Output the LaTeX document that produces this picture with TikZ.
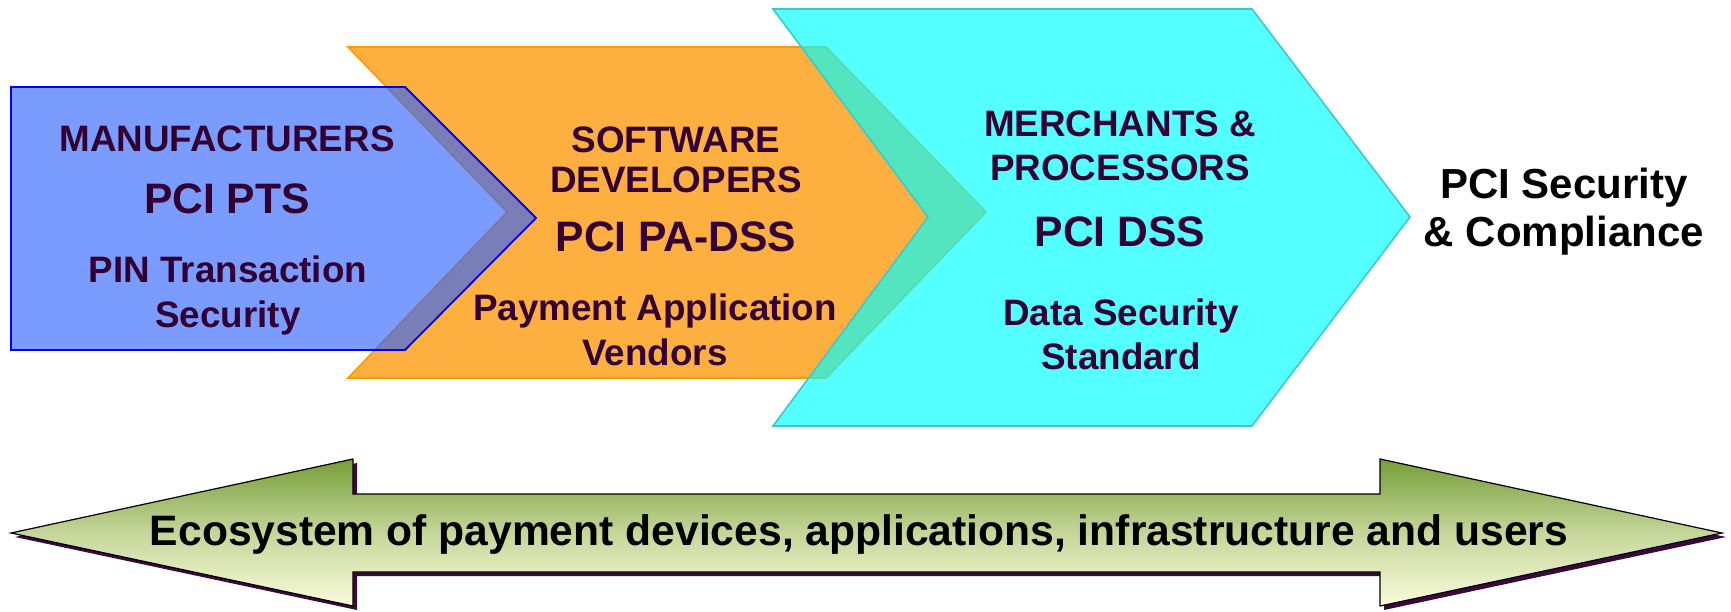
\documentclass[tikz,border=0pt]{standalone}
\usepackage{fontspec}
\setmainfont{Liberation Sans}
\usetikzlibrary{positioning}

\definecolor{labelpurple}{RGB}{51,0,51}
\definecolor{ptsblue}{RGB}{46,98,255}
\definecolor{ptsline}{RGB}{0,0,255}
\definecolor{paorange}{RGB}{253,176,64}
\definecolor{paline}{RGB}{255,153,0}
\definecolor{dsscyan}{RGB}{0,255,255}
\definecolor{dssline}{RGB}{64,200,200}
\definecolor{ecotop}{RGB}{118,158,54}
\definecolor{ecobottom}{RGB}{250,251,220}
\definecolor{ecoshadow}{RGB}{58,8,58}

\begin{document}
\begin{tikzpicture}[x=0.5pt, y=-0.5pt,
    lbl/.style={font=\fontsize{18.4}{22.5}\selectfont\bfseries, text=labelpurple, align=center, inner sep=0pt},
    std/.style={font=\fontsize{21.3}{24}\selectfont\bfseries, text=labelpurple, inner sep=0pt}]
    \useasboundingbox (0,0) rectangle (1731,611);

    % Chevrons
    \filldraw[fill=paorange, draw=paline, line width=0.8pt]
        (348,47) -- (826,47) -- (986,212) -- (826,378) -- (348,378) -- (507,212) -- cycle;
    \filldraw[fill=dsscyan, fill opacity=0.67, draw=dssline, line width=0.8pt]
        (773,9) -- (1252,9) -- (1410,217) -- (1252,426) -- (773,426) -- (928,217) -- cycle;
    \filldraw[fill=ptsblue, fill opacity=0.63, draw=ptsline, line width=0.9pt]
        (11,87) -- (405,87) -- (536,218) -- (405,350) -- (11,350) -- cycle;

    % Manufacturers
    \node[lbl] (mfr) at (227,139) {MANUFACTURERS};
    \node[std] (pts) at (227,199) {PCI PTS};
    \node[lbl] (pin) at (228,295) {PIN Transaction\\Security};
    % Software developers
    \node[lbl, font=\fontsize{18.4}{20}\selectfont\bfseries] (swdev) at (676,160) {SOFTWARE\\DEVELOPERS};
    \node[std] (padss) at (676,237) {PCI PA-DSS};
    \node[lbl] (pav) at (655,330) {Payment Application\\Vendors};
    % Merchants
    \node[lbl, font=\fontsize{18.4}{22}\selectfont\bfseries] (mp) at (1120,146) {MERCHANTS \&\\PROCESSORS};
    \node[std] (dss) at (1120,232) {PCI DSS};
    \node[lbl, font=\fontsize{18.4}{22}\selectfont\bfseries] (dsstd) at (1121,334) {Data Security\\Standard};
    % Result
    \node[lbl, text=black, font=\fontsize{21}{24}\selectfont\bfseries] (compl) at (1564,212) {PCI Security\\\& Compliance};

    % Ecosystem arrow
    \fill[ecoshadow, xshift=2pt, yshift=-2pt]
        (11,533) -- (353,459) -- (353,494) -- (1380,494) -- (1380,459) -- (1722,533)
        -- (1380,606) -- (1380,572) -- (353,572) -- (353,606) -- cycle;
    \shade[top color=ecotop, bottom color=ecobottom, middle color=ecotop!40!ecobottom, draw=black, line width=0.6pt]
        (11,533) -- (353,459) -- (353,494) -- (1380,494) -- (1380,459) -- (1722,533)
        -- (1380,606) -- (1380,572) -- (353,572) -- (353,606) -- cycle;
    \node[font=\fontsize{21.3}{24}\selectfont\bfseries, inner sep=0pt] (eco) at (859,534)
        {Ecosystem of payment devices, applications, infrastructure and users};
\end{tikzpicture}
\end{document}
